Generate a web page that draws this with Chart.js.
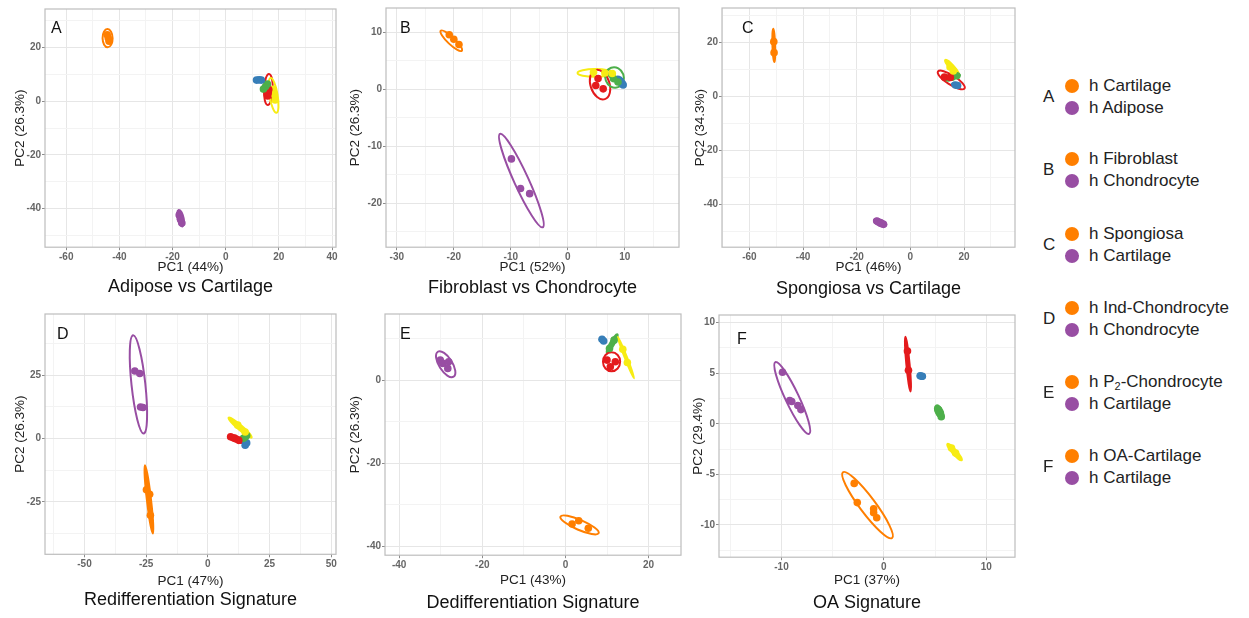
<!DOCTYPE html>
<html>
<head>
<meta charset="utf-8">
<script src="https://cdn.jsdelivr.net/npm/chart.js@4.4.1/dist/chart.umd.min.js"></script>
<style>
body{margin:0;background:#fff;width:1249px;height:618px;overflow:hidden;position:relative;font-family:"Liberation Sans",Arial,sans-serif}
canvas{position:absolute}
.lg-letter{position:absolute;font-size:17px;color:#222;line-height:20px;margin-top:-10px}
.lg-dot{position:absolute;width:14px;height:14px;border-radius:50%;margin-top:-7px}
.lg-text{position:absolute;font-size:17px;color:#222;line-height:20px;margin-top:-10px;white-space:nowrap}
.lg-text sub{font-size:11px;vertical-align:-3px;line-height:0}
</style>
</head>
<body>
<canvas id="pA"></canvas>
<canvas id="pB"></canvas>
<canvas id="pC"></canvas>
<canvas id="pD"></canvas>
<canvas id="pE"></canvas>
<canvas id="pF"></canvas>
<div id="legend"></div>
<script>
// ---- data ----
const letters = ['A','B','C','D','E','F'];
const titles = ['Adipose vs Cartilage','Fibroblast vs Chondrocyte','Spongiosa vs Cartilage',
                'Redifferentiation Signature','Dedifferentiation Signature','OA Signature'];
const pc1Labels = ['PC1 (44%)','PC1 (52%)','PC1 (46%)','PC1 (47%)','PC1 (43%)','PC1 (37%)'];
const pc2Labels = ['PC2 (26.3%)','PC2 (26.3%)','PC2 (34.3%)','PC2 (26.3%)','PC2 (26.3%)','PC2 (29.4%)'];
const xTicks = [[-60,-40,-20,0,20,40],[-30,-20,-10,0,10],[-60,-40,-20,0,20],[-50,-25,0,25,50],[-40,-20,0,20],[-10,0,10]];
const yTicks = [[-40,-20,0,20],[-20,-10,0,10],[-40,-20,0,20],[-25,0,25],[-40,-20,0],[-10,-5,0,5,10]];
const xRange = [[-68,41.5],[-31.9,19.5],[-70.2,39],[-66,51.9],[-43.4,27.8],[-16.1,12.8]];
const yRange = [[-54.4,34.4],[-27.7,14.3],[-56,32.9],[-45.7,49.2],[-42.2,15.9],[-13.2,10.76]];

const pcaA = {
  orange: [[-44.6,24.8],[-44.2,23.6],[-43.9,22.4]],
  purple: [[-17.5,-42.4],[-17,-44],[-16.5,-45.4]],
  blue:   [[11.6,7.9],[12.6,8],[13.4,7.9]],
  green:  [[14.2,4.6],[15,5.5],[15.7,6.4]],
  red:    [[15.8,2],[16,3.2],[16.2,4.4]],
  yellow: [[17.8,4.5],[18.2,2.5],[18.6,0.5]]
};
const pcaB = {
  orange: [[-20.8,9.6],[-20,8.8],[-19.1,7.9]],
  purple: [[-9.9,-12.2],[-8.3,-17.4],[-6.7,-18.3]],
  yellow: [[4.5,3],[6.5,2.9],[7.8,2.8]],
  red:    [[4.9,0.7],[5.3,1.9],[6.2,0.1]],
  green:  [[7.7,2.6],[8,1.9],[8.8,1.3]],
  blue:   [[8.8,1.6],[9.3,1.2],[9.7,0.8]]
};
const pcaC = {
  orange: [[-50.9,20.4],[-50.8,16.3]],
  purple: [[-12.5,-46.3],[-11,-47],[-10,-47.5]],
  yellow: [[14.8,11],[16,9.5]],
  red:    [[12.7,7.2],[14.9,7.1]],
  green:  [[14,6.9],[15.5,7.2],[17.3,7.7]],
  blue:   [[16.8,4.3],[17.6,4.1]]
};
const pcaD = {
  purple: [[-29.6,26.7],[-27.6,25.7],[-27.3,12.5],[-26.3,12.3]],
  orange: [[-24.9,-20.2],[-23.6,-22],[-23.3,-30.3]],
  yellow: [[12.1,5.3],[15.1,2.6]],
  red:    [[9.2,0.7],[10.8,0.2],[12.5,-0.7]],
  green:  [[14.4,0.1],[15.1,0.6],[15.7,1.2]],
  blue:   [[15.1,-2.6],[15.7,-1.7]]
};
const pcaE = {
  purple: [[-30.1,4.8],[-29.5,4],[-28.1,4.4],[-28.3,2.8]],
  orange: [[1.6,-34.7],[3.2,-33.9],[5.5,-35.7]],
  blue:   [[8.8,9.8],[9.2,9.4]],
  green:  [[10.6,7.6],[11.7,9.6]],
  yellow: [[13.8,7.4],[14.9,4.2]],
  red:    [[10,4.8],[12,4.4],[10.8,3.2]]
};
const pcaF = {
  purple: [[-9.9,5.1],[-9.2,2.3],[-9,2.2],[-8.4,1.8],[-8.1,1.4]],
  orange: [[-2.9,-5.9],[-2.6,-7.8],[-1,-8.4],[-1,-8.8],[-0.7,-9.3]],
  red:    [[2.3,7.2],[2.4,5.3]],
  blue:   [[3.55,4.75],[3.75,4.7]],
  green:  [[5.3,1.4],[5.5,1],[5.6,0.7]],
  yellow: [[6.6,-2.4],[7,-2.9]]
};

// ellipses: colour, major-axis end 1 (x,y), end 2 (x,y), minor/major ratio, filled
const ellA = [
  ['orange',-44.5,26.9,-44.4,20.1,0.55,false],
  ['purple',-17.7,-40.5,-16.3,-46.7,0.35,true],
  ['blue',10.6,7.9,14.1,7.9,0.5,true],
  ['green',13.5,3.8,16.2,7,0.4,true],
  ['red',16.3,10.2,15.8,-1.4,0.28,false],
  ['yellow',16.9,8.7,19.1,-4.3,0.23,false]
];
const ellB = [
  ['orange',-22.3,10.3,-18.6,6.8,0.25,false],
  ['purple',-11.9,-7.8,-4.4,-24.2,0.14,false],
  ['yellow',1.7,2.9,7.9,2.9,0.22,false],
  ['red',4.8,3.4,6.5,-1.7,0.62,false],
  ['green',7.6,3.8,8.8,0.4,0.9,false],
  ['blue',8.5,2.2,10,0.6,0.5,true]
];
const ellC = [
  ['orange',-51.1,25.2,-50.7,12.8,0.08,true],
  ['purple',-13.6,-45.9,-9,-47.9,0.45,true],
  ['yellow',13,13.6,18,8.1,0.22,true],
  ['red',10.3,9.3,20.2,3,0.3,false],
  ['green',13.8,6.8,18.5,8,0.35,true],
  ['blue',15.5,4.7,18.5,3.9,0.5,true]
];
const ellD = [
  ['purple',-30.3,40.8,-26,2,0.14,false],
  ['orange',-25.5,-10.5,-22.3,-37.5,0.06,true],
  ['yellow',8.4,8.3,17.7,0.4,0.15,true],
  ['red',8.4,0.9,14.4,-1.3,0.35,true],
  ['green',14,0,16.3,1.5,0.6,true],
  ['blue',14.6,-1.2,15.5,-2.8,0.7,true]
];
const ellE = [
  ['purple',-30.7,6.8,-26.9,0.8,0.45,false],
  ['orange',-1.2,-32.9,8,-36.9,0.24,false],
  ['blue',8.4,10.1,9.5,9.2,0.8,true],
  ['green',10,6.6,12.5,11,0.2,true],
  ['yellow',12.6,10.4,16.5,0.4,0.05,true],
  ['red',11.1,6.7,11.1,2.1,0.9,false]
];
const ellF = [
  ['purple',-10.6,6.1,-7.3,-1,0.17,false],
  ['orange',-4,-4.8,0.8,-11.3,0.19,false],
  ['red',2.1,8.6,2.6,3.2,0.06,true],
  ['blue',3.3,4.8,4,4.6,0.7,true],
  ['green',5.1,1.8,5.7,0.6,0.5,true],
  ['yellow',6.2,-2,7.6,-3.6,0.2,true]
];

const legendOrange = ['h Cartilage','h Fibroblast','h Spongiosa','h Ind-Chondrocyte','h P<sub>2</sub>-Chondrocyte','h OA-Cartilage'];
const legendPurple = ['h Adipose','h Chondrocyte','h Cartilage','h Chondrocyte','h Cartilage','h Cartilage'];

// ---- styling / layout ----
const COLORS = {orange:'#FF7F00', purple:'#984EA3', blue:'#377EB8', green:'#4DAF4A', red:'#E41A1C', yellow:'#F7EC13'};
const FONT = '"Liberation Sans", Arial, sans-serif';
const pcaData = [pcaA, pcaB, pcaC, pcaD, pcaE, pcaF];
const ellData = [ellA, ellB, ellC, ellD, ellE, ellF];

// canvas box, plot area [l,t,r,b] in page px, title positions, letter offset
const frames = [
  {left:0,   top:0,   w:340, area:[45,9,337,247],    yTitleX:20,  xTitleY:267, subY:287, tag:[6,12]},
  {left:340, top:0,   w:350, area:[386,8,679,247],   yTitleX:355, xTitleY:267, subY:288, tag:[14,13]},
  {left:690, top:0,   w:345, area:[722,8,1015,247],  yTitleX:700, xTitleY:267, subY:289, tag:[20,13]},
  {left:0,   top:300, w:340, area:[45,314,339,554],  yTitleX:20,  xTitleY:581, subY:598, tag:[12,13]},
  {left:340, top:300, w:350, area:[385,314,681,555], yTitleX:355, xTitleY:580, subY:603, tag:[15,13]},
  {left:690, top:300, w:345, area:[719,315,1015,557],yTitleX:698, xTitleY:580, subY:603, tag:[18,17]}
];
const AX_FONT = 13.5, SUB_FONT = 18;

function tickList(majors, lo, hi) {
  const step = (majors[1] - majors[0]) / 2;
  const out = [];
  for (let v = Math.ceil(lo / step) * step; v <= hi + 1e-9; v += step) out.push({value: +v.toFixed(4)});
  return out;
}

function makeChart(i) {
  const f = frames[i];
  const [al, at, ar, ab] = f.area;
  const half = AX_FONT * 1.2 / 2;
  const xH = f.xTitleY + half - ab;
  const subLine = SUB_FONT * 1.2;
  let subPad = f.subY - subLine / 2 - (f.xTitleY + half);
  if (subPad < 0) subPad = 0;
  const H = Math.round((ab - f.top) + xH + subPad + subLine + 2);
  const cv = document.getElementById('p' + letters[i]);
  cv.width = f.w; cv.height = H;
  cv.style.left = f.left + 'px'; cv.style.top = f.top + 'px';

  const xm = xTicks[i], ym = yTicks[i];
  const ells = ellData[i];

  const ellipsePlugin = {
    id: 'ellipses' + i,
    beforeDatasetsDraw(chart) {
      const {ctx, chartArea, scales: {x, y}} = chart;
      ctx.save();
      ctx.beginPath();
      ctx.rect(chartArea.left, chartArea.top, chartArea.right - chartArea.left, chartArea.bottom - chartArea.top);
      ctx.clip();
      ells.forEach(([c, x1, y1, x2, y2, ratio, filled]) => {
        const p1x = x.getPixelForValue(x1), p1y = y.getPixelForValue(y1);
        const p2x = x.getPixelForValue(x2), p2y = y.getPixelForValue(y2);
        const r = Math.hypot(p2x - p1x, p2y - p1y) / 2;
        const ang = Math.atan2(p2y - p1y, p2x - p1x);
        ctx.beginPath();
        ctx.ellipse((p1x + p2x) / 2, (p1y + p2y) / 2, r, Math.max(r * ratio, 0.8), ang, 0, Math.PI * 2);
        if (filled) { ctx.fillStyle = COLORS[c]; ctx.fill(); }
        ctx.strokeStyle = COLORS[c];
        ctx.lineWidth = 2;
        ctx.stroke();
      });
      ctx.restore();
    },
    afterDraw(chart) {
      const {ctx, chartArea} = chart;
      ctx.save();
      ctx.strokeStyle = '#bdbdbd';
      ctx.lineWidth = 1.2;
      ctx.strokeRect(chartArea.left, chartArea.top, chartArea.right - chartArea.left, chartArea.bottom - chartArea.top);
      ctx.fillStyle = '#111';
      ctx.font = '16px ' + FONT;
      ctx.textBaseline = 'top';
      ctx.fillText(letters[i], chartArea.left + f.tag[0], chartArea.top + f.tag[1]);
      ctx.restore();
    }
  };

  const datasets = Object.keys(pcaData[i]).map(c => ({
    label: c,
    data: pcaData[i][c].map(([x, y]) => ({x, y})),
    backgroundColor: COLORS[c],
    borderColor: COLORS[c],
    borderWidth: 0,
    pointRadius: 3.8
  }));

  const gridColor = majors => ctx => (ctx.tick && majors.includes(ctx.tick.value)) ? '#e6e6e6' : '#f3f3f3';
  const tickColor = majors => ctx => (ctx.tick && majors.includes(ctx.tick.value)) ? '#8c8c8c' : 'rgba(0,0,0,0)';

  new Chart(cv, {
    type: 'scatter',
    data: {datasets},
    options: {
      responsive: false,
      animation: false,
      layout: {padding: {left: 0, top: at - f.top, right: f.left + f.w - ar, bottom: 0}},
      plugins: {
        legend: {display: false},
        tooltip: {enabled: false},
        title: {
          display: true, text: titles[i], position: 'bottom', fullSize: false,
          color: '#111', font: {family: FONT, size: SUB_FONT, weight: 'normal'},
          padding: {top: subPad, bottom: 2}
        }
      },
      scales: {
        x: {
          type: 'linear', min: xRange[i][0], max: xRange[i][1],
          afterBuildTicks: s => { s.ticks = tickList(xm, xRange[i][0], xRange[i][1]); },
          afterFit: s => { s.height = xH; },
          grid: {color: gridColor(xm), lineWidth: 1, tickLength: 3, tickColor: tickColor(xm)},
          border: {display: false},
          ticks: {
            autoSkip: false, maxRotation: 0, padding: 1, color: '#666',
            font: {family: FONT, size: 10, weight: 'bold'},
            callback: v => xm.includes(v) ? String(v) : ''
          },
          title: {display: true, text: pc1Labels[i], color: '#222', font: {family: FONT, size: AX_FONT}, padding: {top: 0, bottom: 0}}
        },
        y: {
          type: 'linear', min: yRange[i][0], max: yRange[i][1],
          afterBuildTicks: s => { s.ticks = tickList(ym, yRange[i][0], yRange[i][1]); },
          afterFit: s => { s.width = al - f.left; },
          grid: {color: gridColor(ym), lineWidth: 1, tickLength: 3, tickColor: tickColor(ym)},
          border: {display: false},
          ticks: {
            autoSkip: false, padding: 1, color: '#666',
            font: {family: FONT, size: 10, weight: 'bold'},
            callback: v => ym.includes(v) ? String(v) : ''
          },
          title: {display: true, text: pc2Labels[i], color: '#222', font: {family: FONT, size: AX_FONT},
                  padding: {top: Math.max(0, f.yTitleX - f.left - half), bottom: 0}}
        }
      }
    },
    plugins: [ellipsePlugin]
  });
}

for (let i = 0; i < 6; i++) makeChart(i);

// figure legend
const legendRowsY = [86, 159, 234, 308, 382, 456];
const lg = document.getElementById('legend');
letters.forEach((L, i) => {
  const y = legendRowsY[i];
  lg.insertAdjacentHTML('beforeend',
    `<div class="lg-letter" style="left:1043px;top:${y + 11}px">${L}</div>` +
    `<div class="lg-dot" style="left:1065px;top:${y}px;background:${COLORS.orange}"></div>` +
    `<div class="lg-text" style="left:1089px;top:${y}px">${legendOrange[i]}</div>` +
    `<div class="lg-dot" style="left:1065px;top:${y + 22}px;background:${COLORS.purple}"></div>` +
    `<div class="lg-text" style="left:1089px;top:${y + 22}px">${legendPurple[i]}</div>`);
});
</script>
</body>
</html>
